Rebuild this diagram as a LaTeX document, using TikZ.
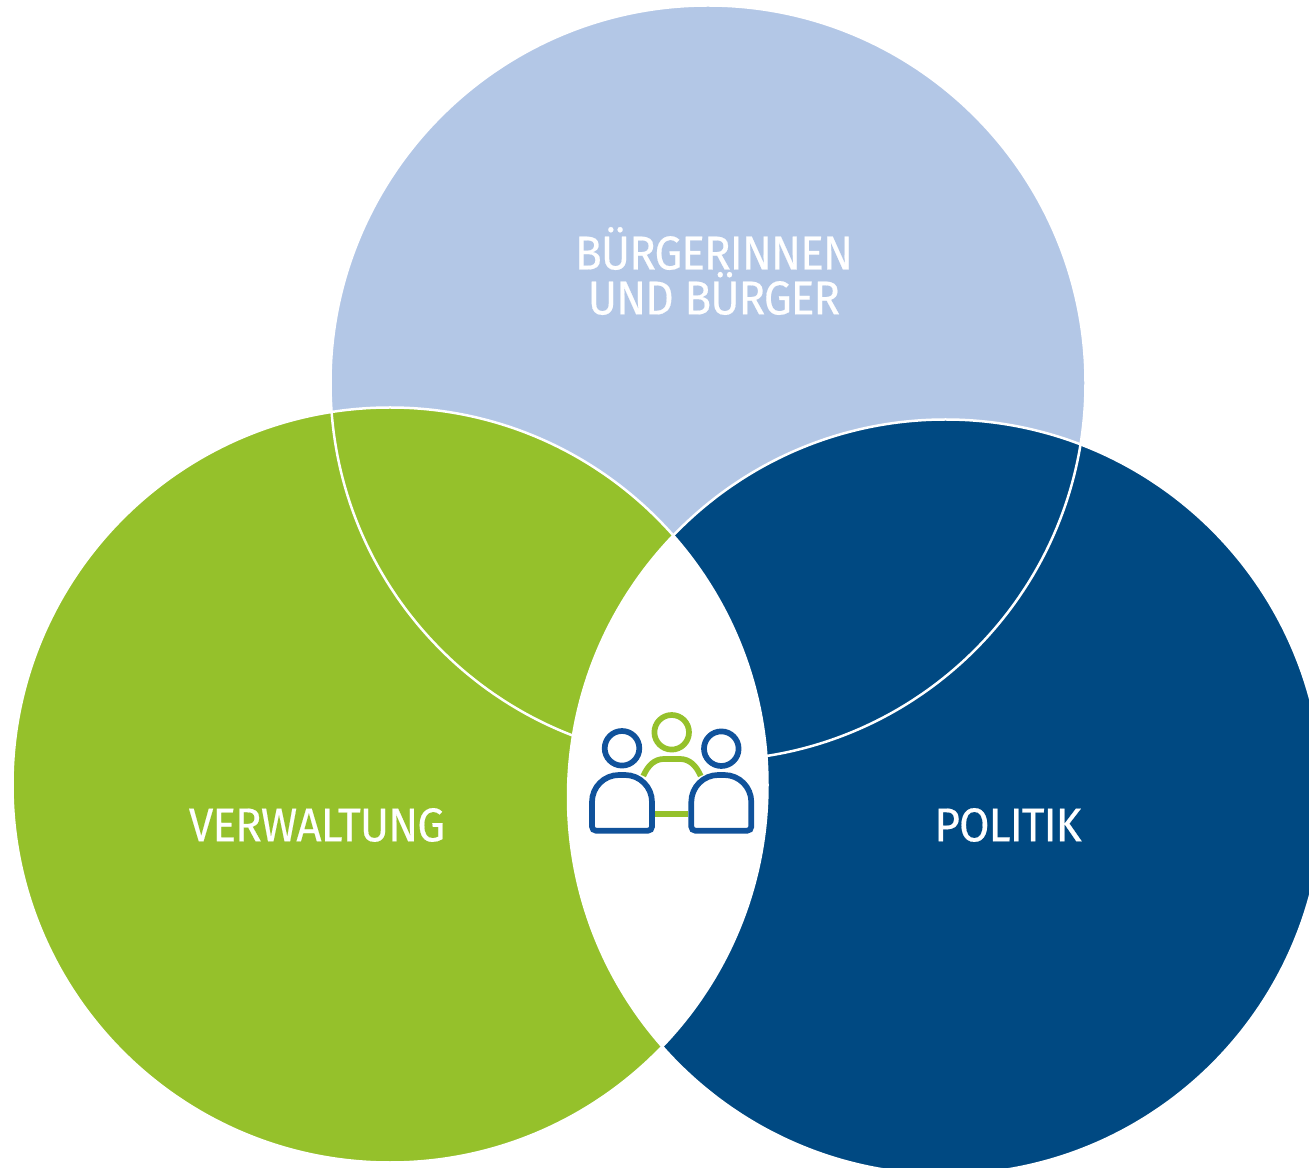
\documentclass[tikz,border=0pt]{standalone}
\usepackage{fontspec}
\setmainfont[FakeStretch=0.93,LetterSpace=-2,FakeBold=0.35]{Fira Sans}
\usepackage{tikz}
\definecolor{lightblue}{RGB}{179,199,230}
\definecolor{leafgreen}{RGB}{149,193,43}
\definecolor{deepblue}{RGB}{0,73,130}
\definecolor{iconblue}{RGB}{16,82,155}
\tikzset{
  circlabel/.style={text=white,font=\fontsize{27}{25.6}\selectfont,inner sep=0pt,align=center},
  bluestroke/.style={draw=iconblue,line width=0.114cm},
  greenstroke/.style={draw=leafgreen,line width=0.114cm},
}

\begin{document}
\begin{tikzpicture}[x=0.02cm,y=-0.02cm]
  \def\R{377.5}
  \useasboundingbox (0,0) rectangle (1309,1168);
  \clip (0,0) rectangle (1309,1168);

  \coordinate (T) at (708,383);
  \coordinate (L) at (390,785);
  \coordinate (P) at (945.5,797);

  \fill[lightblue] (T) circle (\R);
  \fill[leafgreen] (L) circle (\R);
  \fill[deepblue] (P) circle (\R);
  \begin{scope}
    \clip (L) circle (\R);
    \fill[white] (P) circle (\R);
  \end{scope}
  \draw[white,line width=0.05cm] (T) circle (\R);
  \draw[white,line width=0.05cm] (L) circle (\R);
  \draw[white,line width=0.05cm] (P) circle (\R);

  \node[circlabel] (buerger) at (714,271) {BÜRGERINNEN\\UND BÜRGER};
  \node[circlabel] (verwaltung) at (317,825) {VERWALTUNG};
  \node[circlabel] (politik) at (1008,825) {POLITIK};

  % people
  \draw[greenstroke] (671.7,732.3) circle (17.3);
  \draw[greenstroke] (643.3,776) .. controls (648,765) and (655,759) .. (664,759)
    -- (680,759) .. controls (689,759) and (696,765) .. (700.7,776);
  \draw[greenstroke] (655,814.3) -- (688,814.3);

  \draw[bluestroke] (622,748.3) circle (17.3);
  \draw[bluestroke] (721.3,748.7) circle (17.3);
  \foreach \x in {592,691.3} {
    \draw[bluestroke] (\x,826.7)
      -- (\x,802)
      arc[start angle=180,end angle=270,radius=27] -- ++(6,0)
      arc[start angle=270,end angle=360,radius=27] -- (\x+60,826.7)
      arc[start angle=0,end angle=90,radius=4] -- (\x+4,830.7)
      arc[start angle=90,end angle=180,radius=4] -- cycle;
  }
\end{tikzpicture}
\end{document}
